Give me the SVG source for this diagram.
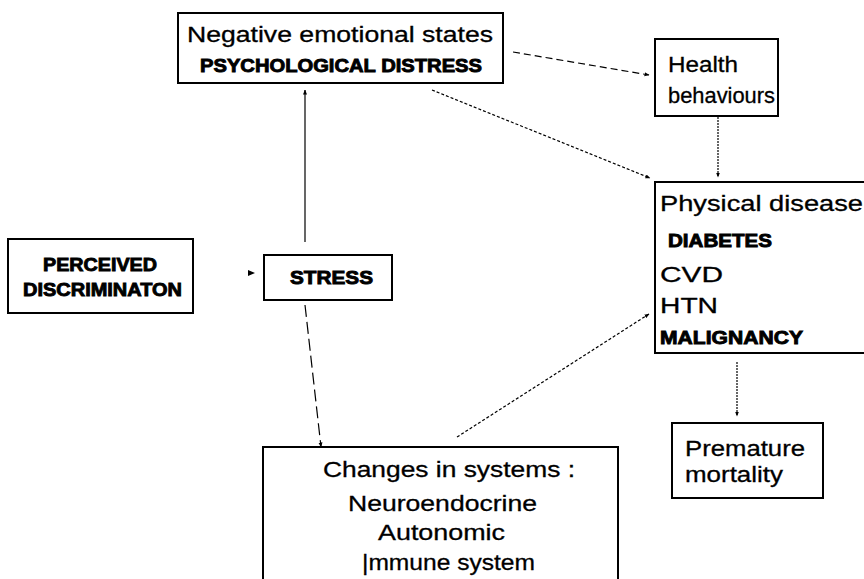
<svg xmlns="http://www.w3.org/2000/svg" width="864" height="579" viewBox="0 0 864 579">
<defs>
<style>
.box{fill:#fff;stroke:#000;stroke-width:2}
.t{font-family:"Liberation Sans",Arial,sans-serif;font-size:22px;fill:#000;stroke:#000;stroke-width:0.3}
.b{font-family:"Liberation Sans",Arial,sans-serif;font-size:19px;font-weight:bold;fill:#000;stroke:#000;stroke-width:0.9}
.c{fill:none;stroke:#000;stroke-width:1.2}
</style>
<marker id="ah" viewBox="0 0 10 10" refX="9" refY="5" markerWidth="5" markerHeight="5" orient="auto" markerUnits="userSpaceOnUse">
<path d="M0,1 L10,5 L0,9 z" fill="#000"/>
</marker>
</defs>
<rect width="864" height="579" fill="#fff"/>
<g id="connectors">
<line class="c" x1="513" y1="52" x2="649" y2="75" stroke-dasharray="7,4" marker-end="url(#ah)"/>
<line class="c" x1="432" y1="90" x2="650" y2="178" stroke-dasharray="3,2" marker-end="url(#ah)"/>
<line class="c" x1="718" y1="117" x2="718" y2="177" stroke-dasharray="2,1" marker-end="url(#ah)"/>
<line class="c" x1="305" y1="242" x2="305" y2="90" marker-end="url(#ah)"/>
<path d="M248,270 L255,273 L248,276 z" fill="#000"/>
<line class="c" x1="305" y1="305" x2="321" y2="447" stroke-dasharray="12,5" marker-end="url(#ah)"/>
<line class="c" x1="457" y1="437" x2="649" y2="314" stroke-dasharray="3,2" marker-end="url(#ah)"/>
<line class="c" x1="737" y1="362" x2="737" y2="416" stroke-dasharray="2,1" marker-end="url(#ah)"/>
</g>
<g id="node-distress">
<rect class="box" x="178" y="13" width="325" height="70"/>
<text class="t" x="187" y="42" textLength="306" lengthAdjust="spacingAndGlyphs">Negative emotional states</text>
<text class="b" x="200" y="72" font-size="20" textLength="282" lengthAdjust="spacingAndGlyphs">PSYCHOLOGICAL DISTRESS</text>
</g>
<g id="node-health">
<rect class="box" x="655" y="39" width="123" height="77"/>
<text class="t" x="668" y="72" textLength="70" lengthAdjust="spacingAndGlyphs">Health</text>
<text class="t" x="668" y="103" textLength="107" lengthAdjust="spacingAndGlyphs">behaviours</text>
</g>
<g id="node-physical">
<rect class="box" x="655" y="182" width="215" height="171"/>
<text class="t" x="660" y="211" textLength="203" lengthAdjust="spacingAndGlyphs">Physical disease</text>
<text class="b" x="668" y="247" font-size="17" textLength="104" lengthAdjust="spacingAndGlyphs">DIABETES</text>
<text class="t" x="660" y="282" textLength="63" lengthAdjust="spacingAndGlyphs">CVD</text>
<text class="t" x="660" y="313" textLength="58" lengthAdjust="spacingAndGlyphs">HTN</text>
<text class="b" x="660" y="344" font-size="17" textLength="143" lengthAdjust="spacingAndGlyphs">MALIGNANCY</text>
</g>
<g id="node-perceived">
<rect class="box" x="8" y="239" width="185" height="74" stroke-width="1.5"/>
<text class="b" x="43" y="271" textLength="114" lengthAdjust="spacingAndGlyphs">PERCEIVED</text>
<text class="b" x="23" y="296" textLength="159" lengthAdjust="spacingAndGlyphs">DISCRIMINATON</text>
</g>
<g id="node-stress">
<rect class="box" x="264" y="255" width="128" height="45" stroke-width="3"/>
<text class="b" x="290" y="284" textLength="83" lengthAdjust="spacingAndGlyphs">STRESS</text>
</g>
<g id="node-changes">
<rect class="box" x="263" y="447" width="355" height="140"/>
<text class="t" x="323" y="477" textLength="252" lengthAdjust="spacingAndGlyphs">Changes in systems :</text>
<text class="t" x="348" y="511" textLength="189" lengthAdjust="spacingAndGlyphs">Neuroendocrine</text>
<text class="t" x="378" y="540" textLength="127" lengthAdjust="spacingAndGlyphs">Autonomic</text>
<text class="t" x="362" y="570" textLength="173" lengthAdjust="spacingAndGlyphs">|mmune system</text>
</g>
<g id="node-premature">
<rect class="box" x="672" y="423" width="151" height="75"/>
<text class="t" x="685" y="456" textLength="120" lengthAdjust="spacingAndGlyphs">Premature</text>
<text class="t" x="685" y="482" textLength="98" lengthAdjust="spacingAndGlyphs">mortality</text>
</g>
</svg>
